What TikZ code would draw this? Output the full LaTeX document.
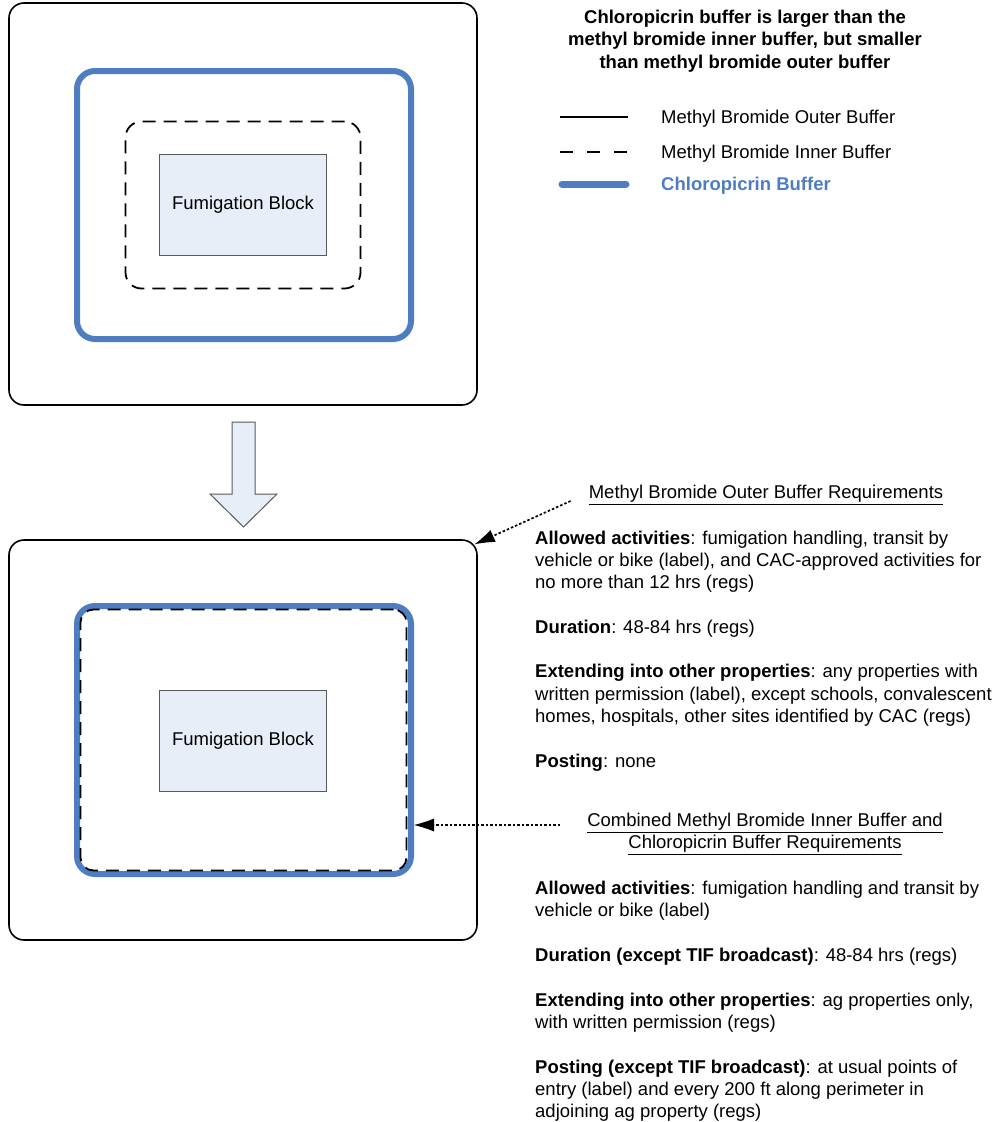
\documentclass[tikz,border=0pt]{standalone}
\usepackage{fontspec}
\setmainfont{Liberation Sans}
\usetikzlibrary{arrows.meta,positioning,calc}
\definecolor{chlblue}{RGB}{79,125,193}
\definecolor{blockfill}{RGB}{232,238,248}
\newcommand{\bodyfont}{\fontsize{18.5}{22.3}\selectfont}
\tikzstyle{outerbuf}=[draw, line width=1.6pt, rounded corners=15pt]
\tikzstyle{innerbuf}=[draw, line width=1.8pt, dash pattern=on 13pt off 8pt, rounded corners=16pt]
\tikzstyle{chlbuf}=[draw=chlblue, line width=6pt, rounded corners=18pt]
\tikzstyle{block}=[draw=black!65, fill=blockfill, line width=1pt, minimum width=167pt, minimum height=101pt, font=\bodyfont]
\tikzstyle{pointer}=[line width=1.7pt, dash pattern=on 2.5pt off 2pt, -{Latex[length=20pt,width=13pt,line width=0pt]}]
\tikzstyle{para}=[align=left, anchor=north west, inner sep=0pt, font=\bodyfont]
\tikzstyle{head}=[align=center, inner sep=0pt, font=\bodyfont]

\begin{document}
\begin{tikzpicture}[x=1pt, y=-1pt]
\useasboundingbox (0,0) rectangle (1002,1122);

% before
\node (outerA) [outerbuf, minimum width=468pt, minimum height=402pt] at (243,204) {};
\node (chlA) at ([xshift=1pt,yshift=-1pt]outerA) [chlbuf, minimum width=334pt, minimum height=268pt] {};
\node (innerA) at ([yshift=-1pt]outerA) [innerbuf, minimum width=235pt, minimum height=167pt] {};
\node (blockA) at ([yshift=-1pt]outerA) [block] {Fumigation Block};

% legend
\node [head, font=\bodyfont\bfseries] (title) at (745,41) {Chloropicrin buffer is larger than the\\
methyl bromide inner buffer, but smaller\\ than methyl bromide outer buffer};
\node [anchor=west, inner sep=0pt, font=\bodyfont] (legA) at (661,119) {Methyl Bromide Outer Buffer};
\node [anchor=west, inner sep=0pt, font=\bodyfont] (legB) at (661,154) {Methyl Bromide Inner Buffer};
\node [anchor=west, inner sep=0pt, font=\bodyfont\bfseries, text=chlblue] (legC) at (661,186) {Chloropicrin Buffer};
\draw [line width=1.6pt] ([xshift=-101pt,yshift=2pt]legA.west) -- ([xshift=-33pt,yshift=2pt]legA.west);
\draw [line width=1.8pt, dash pattern=on 13pt off 14pt] ([xshift=-101pt,yshift=2pt]legB.west) -- ([xshift=-33pt,yshift=2pt]legB.west);
\draw [chlblue, line width=7pt, line cap=round] ([xshift=-99pt,yshift=2pt]legC.west) -- ([xshift=-35pt,yshift=2pt]legC.west);

% arrow down
\filldraw [fill=blockfill, draw=black!65, line width=1pt] (232,422) -- (255,422) -- (255,494) -- (277,494)
  -- (243.5,527) -- (210,494) -- (232,494) -- cycle;

% after
\node (outerB) [outerbuf, minimum width=468pt, minimum height=400pt] at (243,740) {};
\node (chlB) at ([xshift=1pt]outerB) [chlbuf, minimum width=334pt, minimum height=268pt] {};
\node (innerB) at ([xshift=0.5pt]outerB) [innerbuf, minimum width=326pt, minimum height=261pt, rounded corners=13pt] {};
\node (blockB) at ([yshift=-0.5pt]outerB) [block] {Fumigation Block};

% requirements
\node [head] (mbhead) at (766,495) {\underline{Methyl Bromide Outer Buffer Requirements}};
\node [para] (mbtext) at (535,530.5) {\textbf{Allowed activities}: fumigation handling, transit by\\
vehicle or bike (label), and CAC-approved activities for\\
no more than 12 hrs (regs)\\[22.3pt]
\textbf{Duration}: 48-84 hrs (regs)\\[22.3pt]
\textbf{Extending into other properties}: any properties with\\
written permission (label), except schools, convalescent\\
homes, hospitals, other sites identified by CAC (regs)\\[22.3pt]
\textbf{Posting}: none};

\node [head] (cbhead) at (765,834) {\underline{Combined Methyl Bromide Inner Buffer and}\\
\underline{Chloropicrin Buffer Requirements}};
\node [para] (cbtext) at (535,881) {\textbf{Allowed activities}: fumigation handling and transit by\\
vehicle or bike (label)\\[22.3pt]
\textbf{Duration (except TIF broadcast)}: 48-84 hrs (regs)\\[22.3pt]
\textbf{Extending into other properties}: ag properties only,\\
with written permission (regs)\\[22.3pt]
\textbf{Posting (except TIF broadcast)}: at usual points of\\
entry (label) and every 200 ft along perimeter in\\
adjoining ag property (regs)};

\coordinate (mbtail) at ([xshift=-18pt,yshift=-6pt]mbhead.west);
\draw [pointer] (mbtail) -- ([xshift=-3pt,yshift=-5pt]outerB.north east);
\coordinate (cbtail) at (560,825);
\draw [pointer] (cbtail) -- (cbtail -| chlB.east);

\end{tikzpicture}
\end{document}
